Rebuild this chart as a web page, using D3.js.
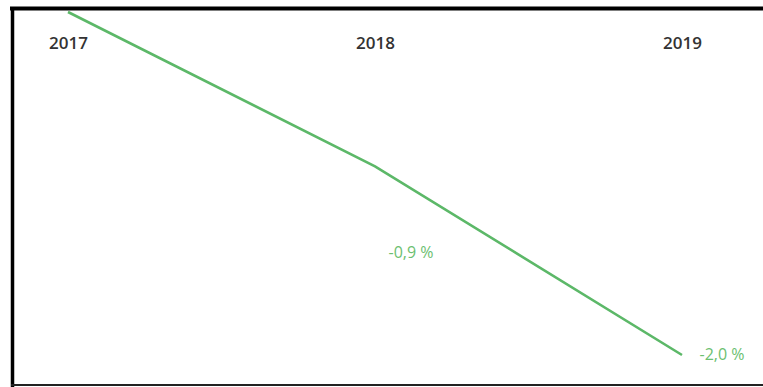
<!DOCTYPE html>
<html>
<head>
<meta charset="utf-8">
<script src="https://cdn.jsdelivr.net/npm/d3@7"></script>
<style>
  body { margin: 0; background: #fff; }
  svg { display: block; }
</style>
</head>
<body>
<div id="wrapper"></div>
<script>
// data
const years = [2017, 2018, 2019];
const values = [0, -0.9, -2.0];
const labels = ["", "-0,9 %", "-2,0 %"];

const dimensions = { width: 763, height: 387 };

const xScale = d3.scaleLinear()
  .domain([2017, 2019])
  .range([68, 682]);

const yScale = d3.scaleLinear()
  .domain([0, -2.0])
  .range([12, 355]);

const svg = d3.select("#wrapper").append("svg")
  .attr("width", dimensions.width)
  .attr("height", dimensions.height);

// frame (top, left, bottom)
svg.append("line").attr("x1", 10).attr("x2", 763).attr("y1", 8.5).attr("y2", 8.5)
  .attr("stroke", "#000").attr("stroke-width", 4);
svg.append("line").attr("x1", 12.5).attr("x2", 12.5).attr("y1", 7).attr("y2", 387)
  .attr("stroke", "#000").attr("stroke-width", 3.5);
svg.append("line").attr("x1", 11).attr("x2", 763).attr("y1", 385).attr("y2", 385)
  .attr("stroke", "#222").attr("stroke-width", 2);

// year axis along the top
const xAxis = d3.axisBottom(xScale)
  .tickValues(years)
  .tickFormat(d3.format("d"))
  .tickSize(0)
  .tickPadding(0);

const axisG = svg.append("g")
  .attr("transform", "translate(0,37)")
  .call(xAxis);
axisG.select(".domain").remove();
axisG.selectAll("text")
  .attr("font-family", "'Open Sans', sans-serif")
  .attr("font-size", 17)
  .attr("font-weight", 600)
  .attr("fill", "#333");

const data = years.map((y, i) => ({ year: y, value: values[i], label: labels[i] }));

const line = d3.line()
  .x(d => xScale(d.year))
  .y(d => yScale(d.value));

svg.append("path")
  .datum(data)
  .attr("d", line)
  .attr("fill", "none")
  .attr("stroke", "#5cb868")
  .attr("stroke-width", 2.6)
  .attr("stroke-linecap", "butt");

// value labels
const offsets = { 2018: [36, 92], 2019: [40, 5] };
svg.selectAll(".val")
  .data(data.filter(d => d.label))
  .join("text")
  .attr("class", "val")
  .attr("x", d => xScale(d.year) + offsets[d.year][0])
  .attr("y", d => yScale(d.value) + offsets[d.year][1])
  .attr("text-anchor", "middle")
  .attr("font-family", "'Open Sans', sans-serif")
  .attr("font-size", 16)
  .attr("fill", "#6cc070")
  .text(d => d.label);
</script>
</body>
</html>
